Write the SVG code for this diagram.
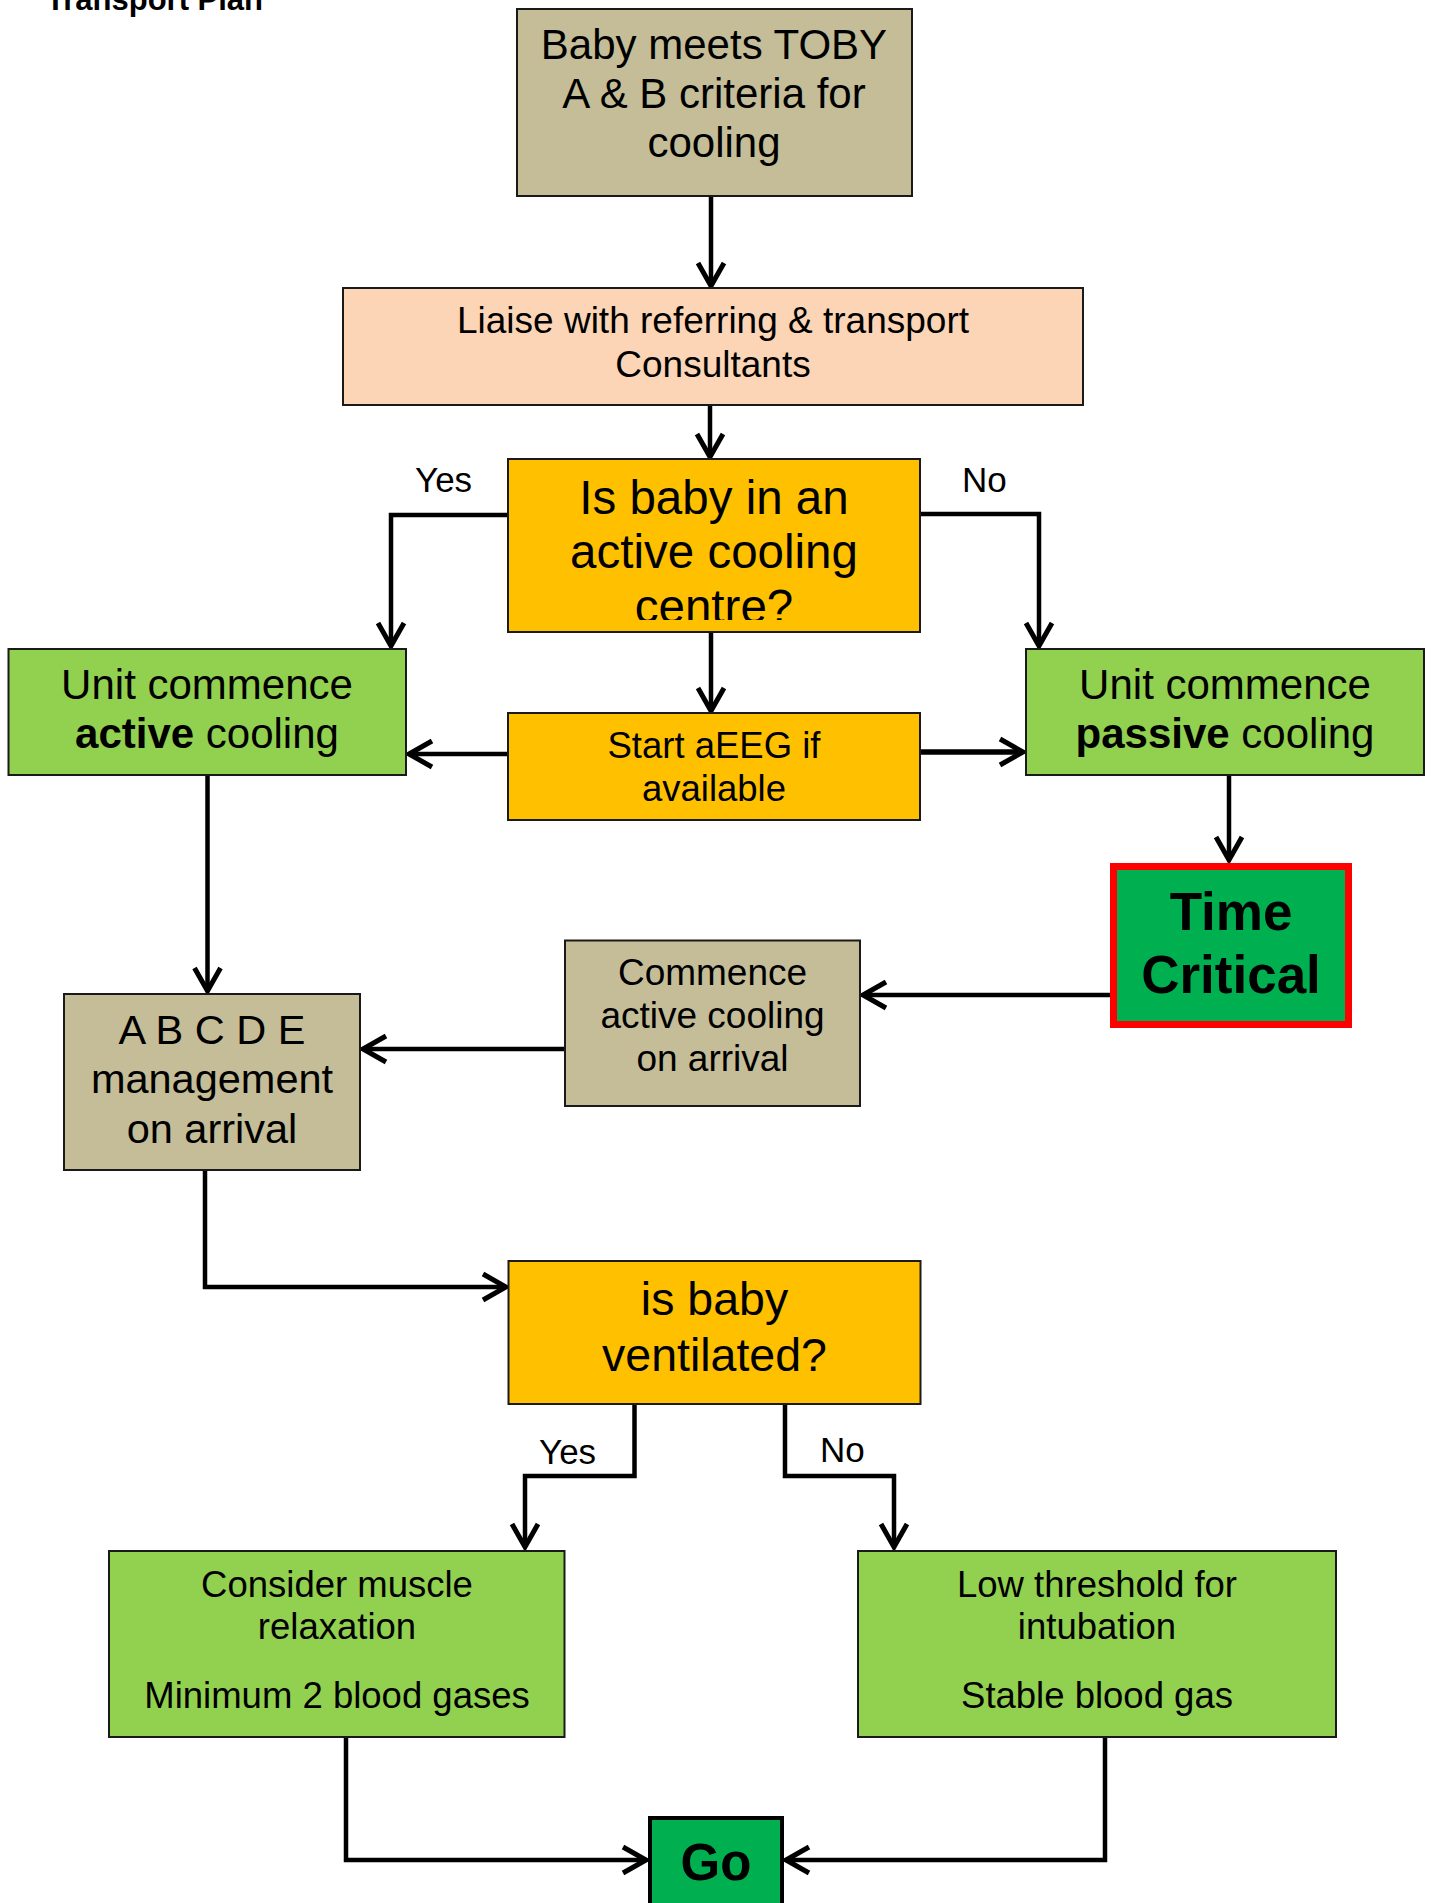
<svg xmlns="http://www.w3.org/2000/svg" width="1434" height="1903" viewBox="0 0 1434 1903">
<style>
  .box { stroke: #1a1a1a; stroke-width: 2; }
  .tan { fill: #C4BD97; }
  .peach { fill: #FBD5B5; }
  .amber { fill: #FFC000; }
  .green { fill: #92D050; }
  .dgreen { fill: #00B050; }
  text { font-family: "Liberation Sans", Arial, sans-serif; fill: #000; text-anchor: middle; }
  .b { font-weight: bold; }
  .conn { fill: none; stroke: #000; stroke-width: 4.5; stroke-linejoin: miter; }
  .lbl { font-size: 35px; text-anchor: start; }
</style>
<defs>
  <marker id="arr" markerUnits="userSpaceOnUse" markerWidth="40" markerHeight="40" viewBox="-30 -20 40 40" refX="0" refY="0" orient="auto">
    <path d="M -23 -13 L 0 0 L -23 13" fill="none" stroke="#000" stroke-width="5"/>
  </marker>
  <clipPath id="clipDec1"><rect x="508" y="459" width="412" height="161"/></clipPath>
</defs>

<text class="b" x="46" y="10" style="font-size:31px;text-anchor:start">Transport Plan</text>

<g id="connectors">
  <path class="conn" d="M 711 196 V 286" marker-end="url(#arr)"/>
  <path class="conn" d="M 710 405 V 457" marker-end="url(#arr)"/>
  <path class="conn" d="M 508 515 H 391 V 646" marker-end="url(#arr)"/>
  <path class="conn" d="M 920 514 H 1039 V 646" marker-end="url(#arr)"/>
  <path class="conn" d="M 711 632 V 711" marker-end="url(#arr)"/>
  <path class="conn" d="M 508 754 H 409" marker-end="url(#arr)"/>
  <path class="conn" style="stroke-width:5.5" d="M 920 752 H 1023" marker-end="url(#arr)"/>
  <path class="conn" d="M 1229 776 V 860" marker-end="url(#arr)"/>
  <path class="conn" d="M 1110 995 H 863" marker-end="url(#arr)"/>
  <path class="conn" d="M 565 1049 H 363" marker-end="url(#arr)"/>
  <path class="conn" d="M 207.5 776 V 991" marker-end="url(#arr)"/>
  <path class="conn" d="M 205 1170 V 1287 H 506" marker-end="url(#arr)"/>
  <path class="conn" d="M 634.5 1404 V 1476 H 525 V 1547" marker-end="url(#arr)"/>
  <path class="conn" d="M 785 1404 V 1476 H 894 V 1547" marker-end="url(#arr)"/>
  <path class="conn" d="M 346 1737 V 1860 H 646" marker-end="url(#arr)"/>
  <path class="conn" d="M 1105 1737 V 1860 H 786" marker-end="url(#arr)"/>
  <text class="lbl" x="415" y="492">Yes</text>
  <text class="lbl" x="962" y="492">No</text>
  <text class="lbl" x="539" y="1464">Yes</text>
  <text class="lbl" x="820" y="1462">No</text>
</g>

<g id="toby">
  <rect class="box tan" x="517" y="9" width="395" height="187"/>
  <text x="714" y="59" style="font-size:42px">Baby meets TOBY</text>
  <text x="714" y="108" style="font-size:42px">A &amp; B criteria for</text>
  <text x="714" y="157" style="font-size:42px">cooling</text>
</g>

<g id="liaise">
  <rect class="box peach" x="343" y="288" width="740" height="117"/>
  <text x="713" y="333" style="font-size:37px">Liaise with referring &amp; transport</text>
  <text x="713" y="377" style="font-size:37px">Consultants</text>
</g>

<g id="decision1">
  <rect class="box amber" x="508" y="459" width="412" height="173"/>
  <g clip-path="url(#clipDec1)">
    <text x="714" y="514" style="font-size:47.5px">Is baby in an</text>
    <text x="714" y="568" style="font-size:47.5px">active cooling</text>
    <text x="714" y="623" style="font-size:47.5px">centre?</text>
  </g>
</g>

<g id="active">
  <rect class="box green" x="8.5" y="649" width="397.5" height="126"/>
  <text x="207" y="699" style="font-size:42px">Unit commence</text>
  <text x="207" y="747.5" style="font-size:42px"><tspan class="b">active</tspan> cooling</text>
</g>

<g id="passive">
  <rect class="box green" x="1026" y="649" width="398" height="126"/>
  <text x="1225" y="699" style="font-size:42px">Unit commence</text>
  <text x="1225" y="747.5" style="font-size:42px"><tspan class="b">passive</tspan> cooling</text>
</g>

<g id="aeeg">
  <rect class="box amber" x="508" y="713" width="412" height="107"/>
  <text x="714" y="758" style="font-size:36.5px">Start aEEG if</text>
  <text x="714" y="800.5" style="font-size:36.5px">available</text>
</g>

<g id="timecritical">
  <rect class="dgreen" x="1113.5" y="866.5" width="235" height="158" stroke="#FF0000" stroke-width="7"/>
  <text class="b" x="1231" y="930" style="font-size:53px">Time</text>
  <text class="b" x="1231" y="992.5" style="font-size:53px">Critical</text>
</g>

<g id="commence">
  <rect class="box tan" x="565" y="940.5" width="295" height="165.5"/>
  <text x="712.5" y="985" style="font-size:37px">Commence</text>
  <text x="712.5" y="1028" style="font-size:37px">active cooling</text>
  <text x="712.5" y="1070.5" style="font-size:37px">on arrival</text>
</g>

<g id="abcde">
  <rect class="box tan" x="64" y="994" width="296" height="176"/>
  <text x="212" y="1044" style="font-size:41.5px">A B C D E</text>
  <text x="212" y="1093" style="font-size:41.5px">management</text>
  <text x="212" y="1142.5" style="font-size:41.5px">on arrival</text>
</g>

<g id="decision2">
  <rect class="box amber" x="508.5" y="1261" width="412" height="143"/>
  <text x="714.5" y="1315" style="font-size:46.5px">is baby</text>
  <text x="714.5" y="1370.5" style="font-size:46.5px">ventilated?</text>
</g>

<g id="muscle">
  <rect class="box green" x="109" y="1551" width="455.5" height="186"/>
  <text x="337" y="1596.5" style="font-size:36.5px">Consider muscle</text>
  <text x="337" y="1639" style="font-size:36.5px">relaxation</text>
  <text x="337" y="1707.5" style="font-size:36.5px">Minimum 2 blood gases</text>
</g>

<g id="intubation">
  <rect class="box green" x="858" y="1551" width="478" height="186"/>
  <text x="1097" y="1596.5" style="font-size:36.5px">Low threshold for</text>
  <text x="1097" y="1639" style="font-size:36.5px">intubation</text>
  <text x="1097" y="1707.5" style="font-size:36.5px">Stable blood gas</text>
</g>

<g id="go">
  <rect class="dgreen" x="650" y="1818" width="132" height="100" stroke="#000" stroke-width="4"/>
  <text class="b" x="716" y="1880" style="font-size:51px">Go</text>
</g>
</svg>
